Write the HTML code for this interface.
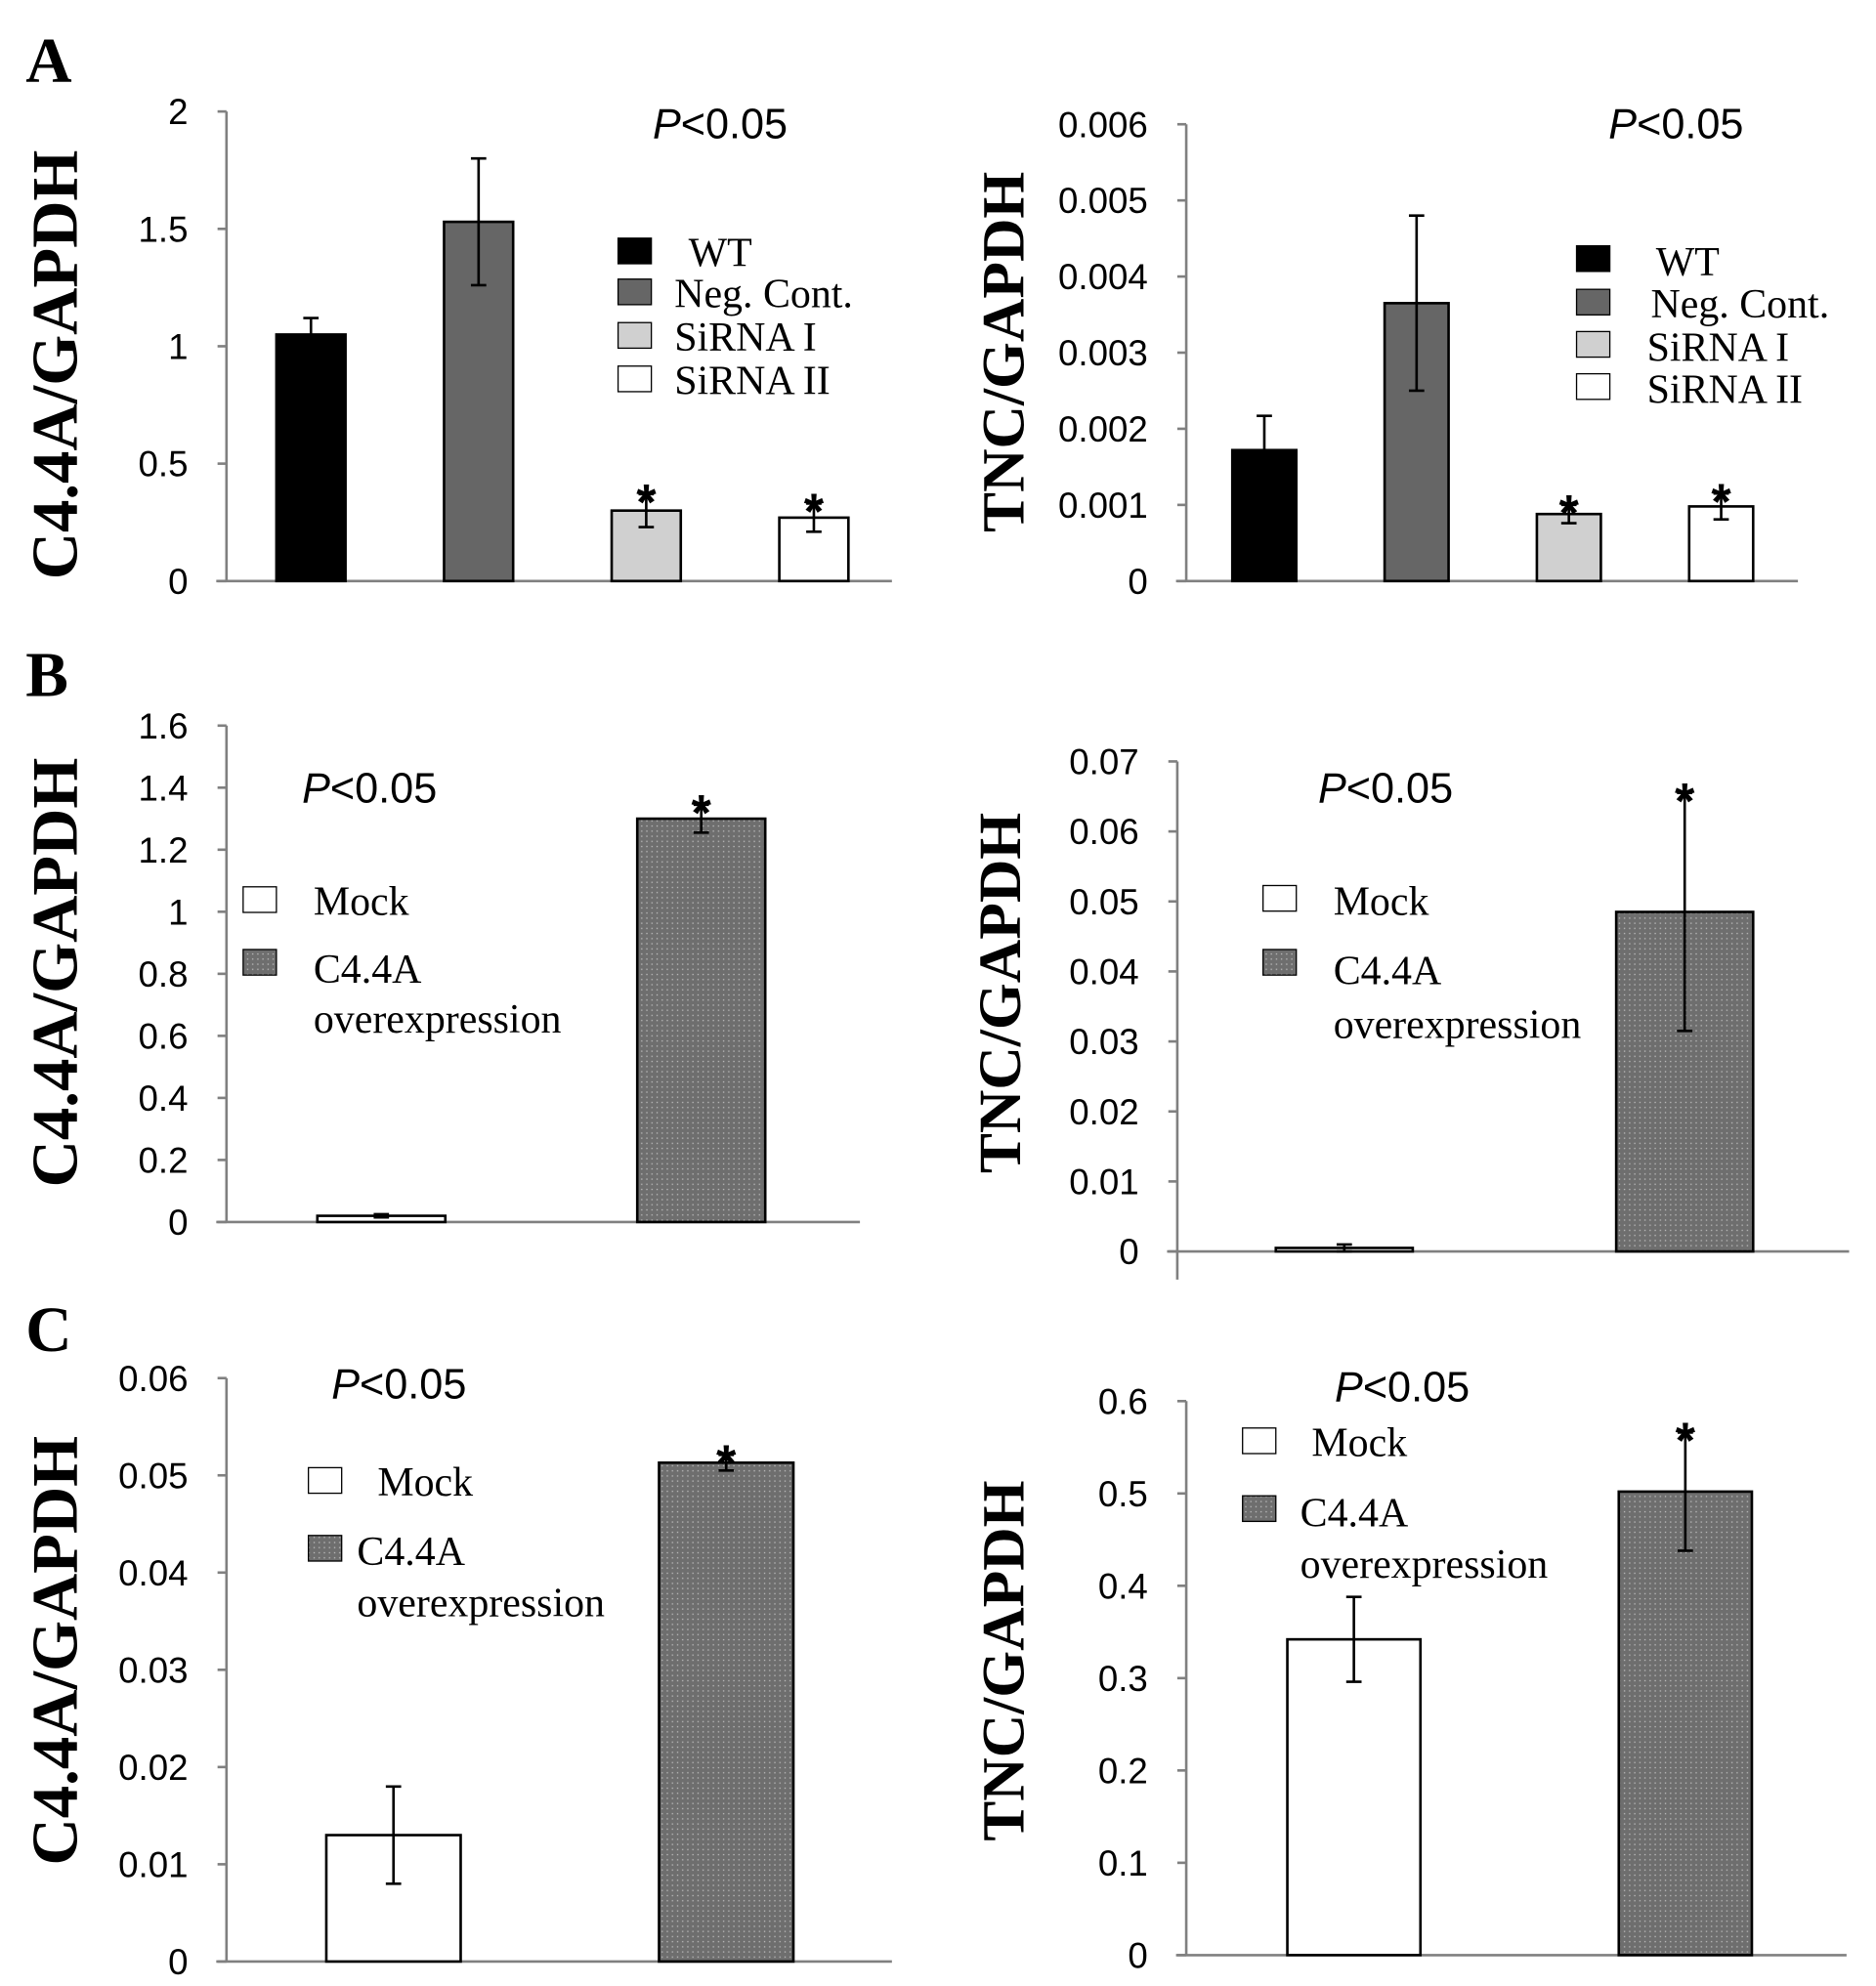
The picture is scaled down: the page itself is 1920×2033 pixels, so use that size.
<!DOCTYPE html>
<html><head><meta charset="utf-8"><style>
html,body{margin:0;padding:0;background:#fff}
svg{display:block}
.tick{font-family:"Liberation Sans",sans-serif;font-size:28px;fill:#000}
.ylab{font-family:"Liberation Serif",serif;font-weight:bold;fill:#000}
.leg{font-family:"Liberation Serif",serif;font-size:32px;fill:#000}
.pval{font-family:"Liberation Sans",sans-serif;font-size:33px;fill:#000}
.letter{font-family:"Liberation Serif",serif;font-size:50px;font-weight:bold;fill:#000}
.star{font-family:"Liberation Sans",sans-serif;font-size:40px;font-weight:bold;fill:#000}
</style></head><body>
<svg id="fig" width="1920" height="2033" viewBox="0 0 1466 1552">
<defs>
<pattern id="dots" width="4" height="4" patternUnits="userSpaceOnUse">
<rect width="4" height="4" fill="#6e6e6e"/><rect x="1" y="1" width="1" height="1" fill="#bdbdbd"/>
</pattern>
</defs>
<text class="letter" x="20" y="64">A</text>
<text class="letter" x="20" y="544">B</text>
<text class="letter" x="20" y="1056">C</text>
</svg>
<script>
// Panel A left: C4.4A/GAPDH
const aLeftCats = ["WT","Neg. Cont.","SiRNA I","SiRNA II"];
const aLeftVals = [1.05, 1.53, 0.30, 0.27];
const aLeftErrs = [0.07, 0.27, 0.07, 0.06];
const aLeftTicks = ["0","0.5","1","1.5","2"];
// Panel A right: TNC/GAPDH
const aRightVals = [0.00172, 0.00365, 0.00088, 0.00098];
const aRightErrs = [0.00045, 0.00115, 0.00012, 0.00017];
const aRightTicks = ["0","0.001","0.002","0.003","0.004","0.005","0.006"];
// Panel B
const ovCats = ["Mock","C4.4A overexpression"];
const bLeftVals = [0.02, 1.30];
const bLeftErrs = [0.005, 0.045];
const bLeftTicks = ["0","0.2","0.4","0.6","0.8","1","1.2","1.4","1.6"];
const bRightVals = [0.0005, 0.0485];
const bRightErrs = [0.0005, 0.017];
const bRightTicks = ["0","0.01","0.02","0.03","0.04","0.05","0.06","0.07"];
// Panel C
const cLeftVals = [0.013, 0.0513];
const cLeftErrs = [0.005, 0.0008];
const cLeftTicks = ["0","0.01","0.02","0.03","0.04","0.05","0.06"];
const cRightVals = [0.342, 0.502];
const cRightErrs = [0.046, 0.064];
const cRightTicks = ["0","0.1","0.2","0.3","0.4","0.5","0.6"];

const NS="http://www.w3.org/2000/svg";
const svg=document.getElementById('fig');
function mk(tag,attrs,parent){const e=document.createElementNS(NS,tag);for(const k in attrs)e.setAttribute(k,attrs[k]);(parent||svg).appendChild(e);return e;}

function chart(c){
  const g=mk('g',{});
  
  
  const max=parseFloat(c.ticks[c.ticks.length-1]);
  const y=v=>c.y0-(v/max)*(c.y0-c.yTop);
  const ax=mk('line',{x1:c.ax,y1:c.yTop,x2:c.ax,y2:c.axBottom||c.y0,stroke:'#808080','stroke-width':2},g);
  
  
  const bl=mk('line',{x1:c.ax-8,y1:c.y0,x2:c.xEnd,y2:c.y0,stroke:'#808080','stroke-width':2},g);
  
  
  c.ticks.forEach(t=>{
    const yy=y(parseFloat(t));
    mk('line',{x1:c.ax-7,y1:yy,x2:c.ax,y2:yy,stroke:'#808080','stroke-width':2},g);
    const tx=mk('text',{class:'tick',x:c.ax-30,y:yy+10,'text-anchor':'end'},g);
    tx.textContent=t;
    
    
  });
  c.vals.forEach((v,i)=>{
    const bx=c.barX[i], bw=c.barW;
    const r=mk('rect',{x:bx,y:y(v),width:bw,height:c.y0-y(v),fill:c.fills[i],stroke:'#000','stroke-width':2},g);
    
    
    const cx=bx+bw/2, e=c.errs[i];
    const el=mk('path',{d:`M${cx},${y(v+e)}V${y(v-e)}M${cx-6},${y(v+e)}H${cx+6}M${cx-6},${y(v-e)}H${cx+6}`,stroke:'#000','stroke-width':2,fill:'none'},g);
    
    
    if(c.stars[i]){
      const s=mk('text',{class:'star',x:cx,y:y(v+e)+20,'text-anchor':'middle'},g);
      s.textContent='*';
      
      
    }
  });
  const yl=mk('text',{class:'ylab','font-size':c.ylfs,transform:`translate(${c.ylx},${c.yly}) rotate(-90)`,'text-anchor':'middle'},g);
  yl.textContent=c.ylabel;
  
  
  const p=mk('text',{class:'pval',x:c.px,y:c.py},g);
  p.innerHTML='<tspan font-style="italic">P</tspan>&lt;0.05';
  
  
  c.legend.forEach(L=>{
    const sw=mk('rect',{x:L.sx,y:L.sy,width:26,height:20,fill:L.fill,stroke:'#000','stroke-width':1},g);
    
    
    L.lines.forEach(l=>{
      const t=mk('text',{class:'leg',x:l[0],y:l[1]},g);
      t.textContent=l[2];
      
      
    });
  });
}
const fillsA=['#000','#666','#d0d0d0','#fff'];
const fillsO=['#fff','url(#dots)'];
chart({name:'chart-a-left',ticks:aLeftTicks,vals:aLeftVals,errs:aLeftErrs,ax:177,yTop:87,y0:454,xEnd:697,
  barX:[216,347,478,609],barW:54,fills:fillsA,stars:[0,0,1,1],ylabel:'C4.4A/GAPDH',ylfs:51,ylx:60,yly:285,px:510,py:108,
  legend:[{sx:483,sy:186,fill:'#000',lines:[[538,208,aLeftCats[0]]]},{sx:483,sy:218,fill:'#666',lines:[[527,240,aLeftCats[1]]]},
  {sx:483,sy:252,fill:'#d0d0d0',lines:[[527,274,aLeftCats[2]]]},{sx:483,sy:286,fill:'#fff',lines:[[527,308,aLeftCats[3]]]}]});
chart({name:'chart-a-right',ticks:aRightTicks,vals:aRightVals,errs:aRightErrs,ax:927,yTop:97,y0:454,xEnd:1405,
  barX:[963,1082,1201,1320],barW:50,fills:fillsA,stars:[0,0,1,1],ylabel:'TNC/GAPDH',ylfs:47,ylx:800,yly:275,px:1257,py:108,
  legend:[{sx:1232,sy:192,fill:'#000',lines:[[1294,215,aLeftCats[0]]]},{sx:1232,sy:226,fill:'#666',lines:[[1290,248,aLeftCats[1]]]},
  {sx:1232,sy:259,fill:'#d0d0d0',lines:[[1287,282,aLeftCats[2]]]},{sx:1232,sy:292,fill:'#fff',lines:[[1287,315,aLeftCats[3]]]}]});
chart({name:'chart-b-left',ticks:bLeftTicks,vals:bLeftVals,errs:bLeftErrs,ax:177,yTop:567,y0:955,xEnd:672,
  barX:[248,498],barW:100,fills:fillsO,stars:[0,1],ylabel:'C4.4A/GAPDH',ylfs:51,ylx:60,yly:760,px:236,py:627,
  legend:[{sx:190,sy:693,fill:'#fff',lines:[[245,715,'Mock']]},{sx:190,sy:742,fill:'url(#dots)',lines:[[245,768,'C4.4A'],[245,807,'overexpression']]}]});
chart({name:'chart-b-right',ticks:bRightTicks,vals:bRightVals,errs:bRightErrs,ax:920,yTop:595,y0:978,xEnd:1445,axBottom:1000,
  barX:[997,1263],barW:107,fills:fillsO,stars:[0,1],ylabel:'TNC/GAPDH',ylfs:47,ylx:797,yly:776,px:1030,py:627,
  legend:[{sx:987,sy:692,fill:'#fff',lines:[[1042,715,'Mock']]},{sx:987,sy:742,fill:'url(#dots)',lines:[[1042,769,'C4.4A'],[1042,811,'overexpression']]}]});
chart({name:'chart-c-left',ticks:cLeftTicks,vals:cLeftVals,errs:cLeftErrs,ax:177,yTop:1077,y0:1533,xEnd:697,
  barX:[255,515],barW:105,fills:fillsO,stars:[0,1],ylabel:'C4.4A/GAPDH',ylfs:51,ylx:60,yly:1290,px:259,py:1093,
  legend:[{sx:241,sy:1147,fill:'#fff',lines:[[295,1169,'Mock']]},{sx:241,sy:1200,fill:'url(#dots)',lines:[[279,1223,'C4.4A'],[279,1263,'overexpression']]}]});
chart({name:'chart-c-right',ticks:cRightTicks,vals:cRightVals,errs:cRightErrs,ax:927,yTop:1095,y0:1528,xEnd:1443,
  barX:[1006,1265],barW:104,fills:fillsO,stars:[0,1],ylabel:'TNC/GAPDH',ylfs:47,ylx:800,yly:1298,px:1043,py:1095,
  legend:[{sx:971,sy:1116,fill:'#fff',lines:[[1025,1138,'Mock']]},{sx:971,sy:1169,fill:'url(#dots)',lines:[[1016,1193,'C4.4A'],[1016,1233,'overexpression']]}]});
</script>
</body></html>
